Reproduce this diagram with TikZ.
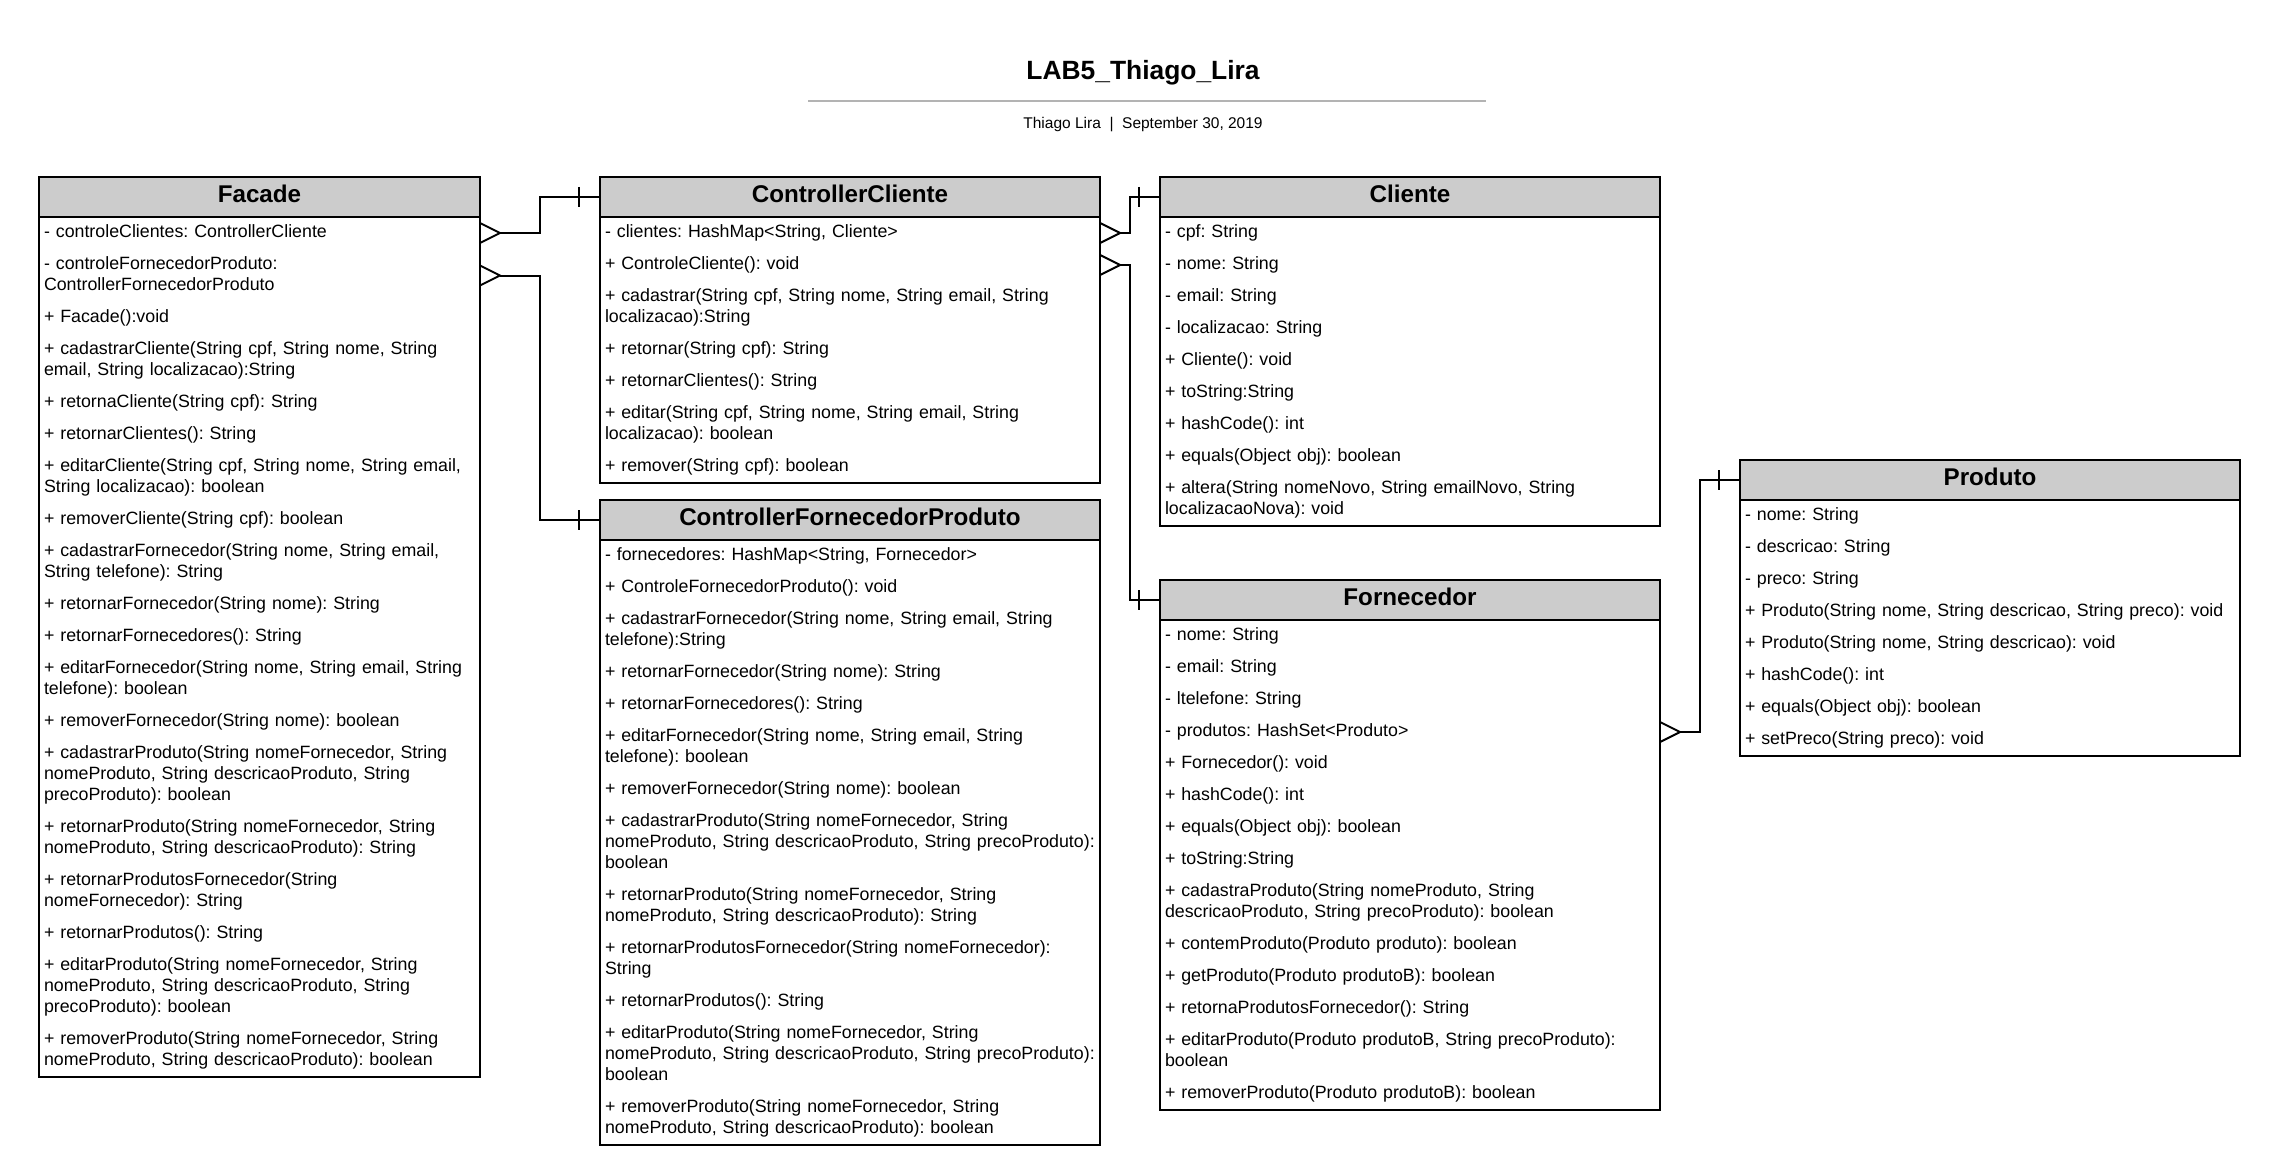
\documentclass[tikz,border=0pt]{standalone}
\usepackage{fontspec}
\setmainfont{Liberation Sans}
\frenchspacing
\hyphenpenalty=10000
\definecolor{headgray}{HTML}{CCCCCC}
\definecolor{rulegray}{HTML}{B3B3B3}
\tikzset{
  class_head/.style={draw, line width=2pt, fill=headgray, anchor=north west, inner sep=0pt, outer sep=0pt,
    minimum width=#1, minimum height=40pt, text depth=7pt, font=\fontsize{24.2}{29}\selectfont\bfseries},
  class_body/.style={draw, line width=2pt, anchor=north west, align=left, inner xsep=5pt, outer sep=0pt,
    inner ysep=7.6pt, text width=#1, font=\fontsize{17.8}{21}\selectfont},
  link/.style={line width=2pt},
  crow_many/.pic={\draw[link] (0,-10) -- (20,0) -- (0,10);},
  bar_one/.pic={\draw[link] (0,-10) -- (0,10);}
}

\begin{document}
\begin{tikzpicture}[x=1pt, y=-1pt]
      \useasboundingbox (0,0) rectangle (2274,1169);
      \node[font=\fontsize{26.4}{30}\selectfont\bfseries] (title) at (1143,72.5) {LAB5\_Thiago\_Lira};
      \draw[rulegray, line width=2pt] (808,101.5) -- (1486,101.5);
      \node[font=\fontsize{15.5}{18}\selectfont] (byline) at (1143,124.5) {Thiago Lira~~|~~September 30, 2019};

      \node[class_head=441pt] (facade_head) at (39,177) {Facade};
      \node[class_body=431pt] (facade_body) at (facade_head.south west) {- controleClientes: ControllerCliente\\[11pt]
        - controleFornecedorProduto:\\ControllerFornecedorProduto\\[11pt]
        + Facade():void\\[11pt]
        + cadastrarCliente(String cpf, String nome, String\\email, String localizacao):String\\[11pt]
        + retornaCliente(String cpf): String\\[11pt]
        + retornarClientes(): String\\[11pt]
        + editarCliente(String cpf, String nome, String email,\\String localizacao): boolean\\[11pt]
        + removerCliente(String cpf): boolean\\[11pt]
        + cadastrarFornecedor(String nome, String email,\\String telefone): String\\[11pt]
        + retornarFornecedor(String nome): String\\[11pt]
        + retornarFornecedores(): String\\[11pt]
        + editarFornecedor(String nome, String email, String\\telefone): boolean\\[11pt]
        + removerFornecedor(String nome): boolean\\[11pt]
        + cadastrarProduto(String nomeFornecedor, String\\nomeProduto, String descricaoProduto, String\\precoProduto): boolean\\[11pt]
        + retornarProduto(String nomeFornecedor, String\\nomeProduto, String descricaoProduto): String\\[11pt]
        + retornarProdutosFornecedor(String\\nomeFornecedor): String\\[11pt]
        + retornarProdutos(): String\\[11pt]
        + editarProduto(String nomeFornecedor, String\\nomeProduto, String descricaoProduto, String\\precoProduto): boolean\\[11pt]
        + removerProduto(String nomeFornecedor, String\\nomeProduto, String descricaoProduto): boolean};

      \node[class_head=500pt] (cc_head) at (600,177) {ControllerCliente};
      \node[class_body=490pt] (cc_body) at (cc_head.south west) {- clientes: HashMap<String, Cliente>\\[11pt]
        + ControleCliente(): void\\[11pt]
        + cadastrar(String cpf, String nome, String email, String\\localizacao):String\\[11pt]
        + retornar(String cpf): String\\[11pt]
        + retornarClientes(): String\\[11pt]
        + editar(String cpf, String nome, String email, String\\localizacao): boolean\\[11pt]
        + remover(String cpf): boolean};

      \node[class_head=500pt] (cfp_head) at (600,500) {ControllerFornecedorProduto};
      \node[class_body=490pt] (cfp_body) at (cfp_head.south west) {- fornecedores: HashMap<String, Fornecedor>\\[11pt]
        + ControleFornecedorProduto(): void\\[11pt]
        + cadastrarFornecedor(String nome, String email, String\\telefone):String\\[11pt]
        + retornarFornecedor(String nome): String\\[11pt]
        + retornarFornecedores(): String\\[11pt]
        + editarFornecedor(String nome, String email, String\\telefone): boolean\\[11pt]
        + removerFornecedor(String nome): boolean\\[11pt]
        + cadastrarProduto(String nomeFornecedor, String\\nomeProduto, String descricaoProduto, String precoProduto):\\boolean\\[11pt]
        + retornarProduto(String nomeFornecedor, String\\nomeProduto, String descricaoProduto): String\\[11pt]
        + retornarProdutosFornecedor(String nomeFornecedor):\\String\\[11pt]
        + retornarProdutos(): String\\[11pt]
        + editarProduto(String nomeFornecedor, String\\nomeProduto, String descricaoProduto, String precoProduto):\\boolean\\[11pt]
        + removerProduto(String nomeFornecedor, String\\nomeProduto, String descricaoProduto): boolean};

      \node[class_head=500pt] (cliente_head) at (1160,177) {Cliente};
      \node[class_body=490pt] (cliente_body) at (cliente_head.south west) {- cpf: String\\[11pt]
        - nome: String\\[11pt]
        - email: String\\[11pt]
        - localizacao: String\\[11pt]
        + Cliente(): void\\[11pt]
        + toString:String\\[11pt]
        + hashCode(): int\\[11pt]
        + equals(Object obj): boolean\\[11pt]
        + altera(String nomeNovo, String emailNovo, String\\localizacaoNova): void};

      \node[class_head=500pt] (fornecedor_head) at (1160,580) {Fornecedor};
      \node[class_body=490pt] (fornecedor_body) at (fornecedor_head.south west) {- nome: String\\[11pt]
        - email: String\\[11pt]
        - ltelefone: String\\[11pt]
        - produtos: HashSet<Produto>\\[11pt]
        + Fornecedor(): void\\[11pt]
        + hashCode(): int\\[11pt]
        + equals(Object obj): boolean\\[11pt]
        + toString:String\\[11pt]
        + cadastraProduto(String nomeProduto, String\\descricaoProduto, String precoProduto): boolean\\[11pt]
        + contemProduto(Produto produto): boolean\\[11pt]
        + getProduto(Produto produtoB): boolean\\[11pt]
        + retornaProdutosFornecedor(): String\\[11pt]
        + editarProduto(Produto produtoB, String precoProduto):\\boolean\\[11pt]
        + removerProduto(Produto produtoB): boolean};

      \node[class_head=500pt] (produto_head) at (1740,460) {Produto};
      \node[class_body=490pt] (produto_body) at (produto_head.south west) {- nome: String\\[11pt]
        - descricao: String\\[11pt]
        - preco: String\\[11pt]
        + Produto(String nome, String descricao, String preco): void\\[11pt]
        + Produto(String nome, String descricao): void\\[11pt]
        + hashCode(): int\\[11pt]
        + equals(Object obj): boolean\\[11pt]
        + setPreco(String preco): void};

      \coordinate (facade_to_cc) at ([yshift=-16pt]facade_body.north east);
      \coordinate (facade_to_cfp) at ([yshift=-58.5pt]facade_body.north east);
      \coordinate (cc_to_cliente) at ([yshift=-16pt]cc_body.north east);
      \coordinate (cc_to_fornecedor) at ([yshift=-48pt]cc_body.north east);
      \coordinate (fornecedor_to_produto) at ([yshift=-112pt]fornecedor_body.north east);

      \pic at (facade_to_cc) {crow_many};
      \pic at (facade_to_cfp) {crow_many};
      \pic at (cc_to_cliente) {crow_many};
      \pic at (cc_to_fornecedor) {crow_many};
      \pic at (fornecedor_to_produto) {crow_many};
      \draw[link] ([xshift=20pt]facade_to_cc) -- ++(40,0) |- (cc_head.west);
      \draw[link] ([xshift=20pt]facade_to_cfp) -- ++(40,0) |- (cfp_head.west);
      \draw[link] ([xshift=20pt]cc_to_cliente) -- ++(10,0) |- (cliente_head.west);
      \draw[link] ([xshift=20pt]cc_to_fornecedor) -- ++(10,0) |- (fornecedor_head.west);
      \draw[link] ([xshift=20pt]fornecedor_to_produto) -- ++(20,0) |- (produto_head.west);
      \pic at ([xshift=-21pt]cc_head.west) {bar_one};
      \pic at ([xshift=-21pt]cfp_head.west) {bar_one};
      \pic at ([xshift=-21pt]cliente_head.west) {bar_one};
      \pic at ([xshift=-21pt]fornecedor_head.west) {bar_one};
      \pic at ([xshift=-21pt]produto_head.west) {bar_one};
    \end{tikzpicture}
\end{document}
